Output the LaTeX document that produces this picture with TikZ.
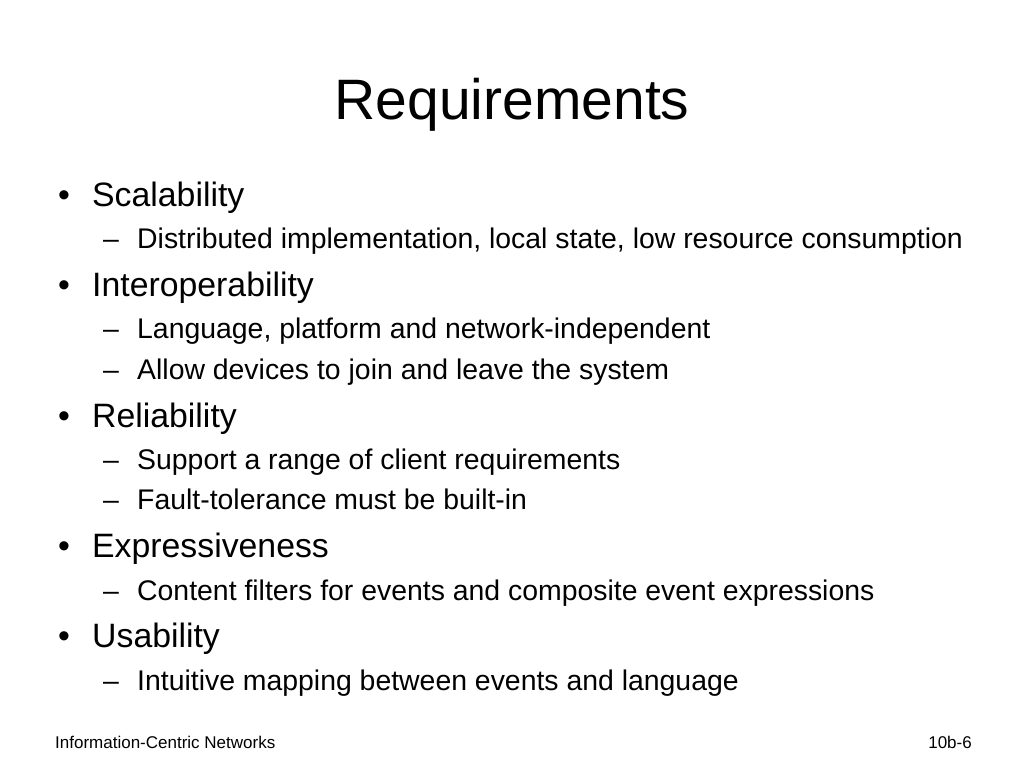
\documentclass[tikz,border=0pt]{standalone}
\usepackage{fontspec}
\setmainfont{Liberation Sans}
\begin{document}
\begin{tikzpicture}[x=1pt,y=-1pt,
  lone/.style={anchor=base west,inner sep=0pt,font=\fontsize{33.8}{38}\selectfont},
  ltwo/.style={anchor=base west,inner sep=0pt,font=\fontsize{28.4}{32}\selectfont},
  foot/.style={inner sep=0pt,font=\fontsize{17}{20}\selectfont}]
\useasboundingbox (0,0) rectangle (1024,768);
\node[anchor=base,inner sep=0pt,font=\fontsize{57}{64}\selectfont] (title) at (512,119) {Requirements};
\foreach \n/\y/\t in {a/206/Scalability,b/296/Interoperability,c/427/Reliability,d/557/Expressiveness,e/647/Usability}{
  \node[lone] (b\n) at (58,\y) {•};
  \node[lone] (t\n) at (92,\y) {\t};
}
\foreach \n/\y/\t in {a1/248/{Distributed implementation, local state, low resource consumption},
  b1/338/{Language, platform and network-independent},
  b2/379/{Allow devices to join and leave the system},
  c1/469/{Support a range of client requirements},
  c2/509/{Fault-tolerance must be built-in},
  d1/600/{Content filters for events and composite event expressions},
  e1/690/{Intuitive mapping between events and language}}{
  \node[ltwo] (d\n) at (103,\y) {–};
  \node[ltwo] (s\n) at (137,\y) {\t};
}
\node[foot,anchor=base west] (fl) at (55,748) {Information-Centric Networks};
\node[foot,anchor=base east] (fr) at (972,748) {10b-6};
\end{tikzpicture}
\end{document}
